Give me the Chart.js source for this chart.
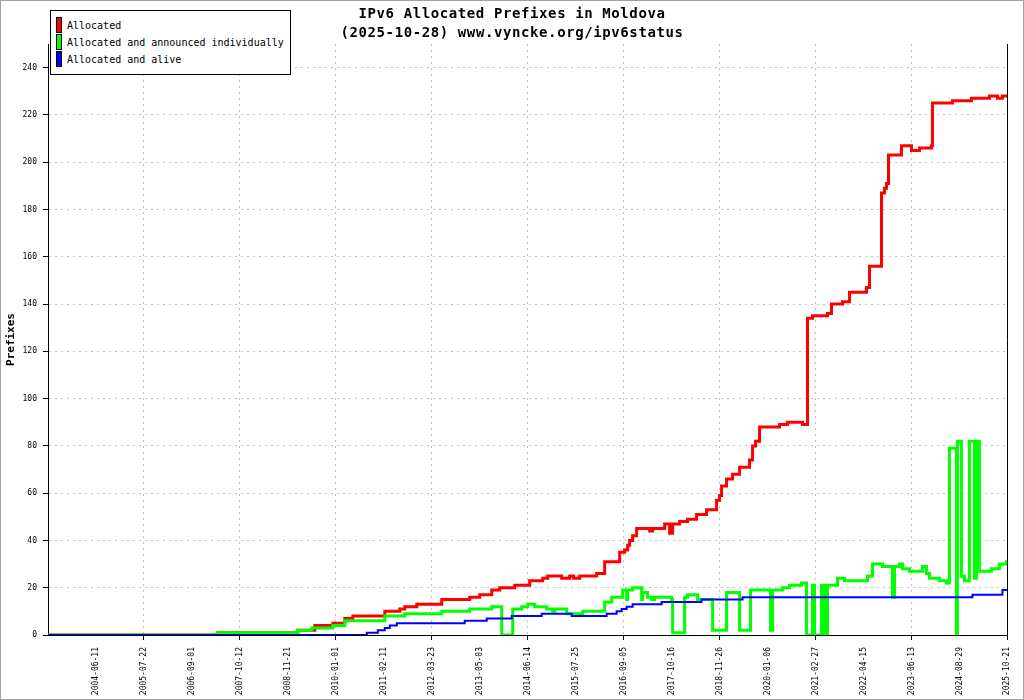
<!DOCTYPE html>
<html>
<head>
<meta charset="utf-8">
<title>IPv6 Allocated Prefixes in Moldova</title>
<script src="https://cdn.jsdelivr.net/npm/chart.js@4.4.1/dist/chart.umd.min.js"></script>
<style>
  html, body { margin: 0; padding: 0; background: #fff; }
  #wrap { position: relative; width: 1024px; height: 700px; overflow: hidden; }
  #chart { position: absolute; left: 0; top: 0; }
  #frame { position: absolute; left: 0; top: 0; width: 1024px; height: 700px; box-sizing: border-box; border: 1px solid #a0a0a0; pointer-events: none; }
  #title { position: absolute; left: 0; top: 4px; width: 1024px; text-align: center; font: bold 14px/19px "DejaVu Sans Mono", monospace; letter-spacing: 0.6px; color: #000; }
  #legend { position: absolute; left: 50px; top: 10px; width: 241px; height: 65px; box-sizing: border-box; border: 1px solid #000; background: #fff; font: 10px "DejaVu Sans Mono", monospace; color: #000; }
  .row { position: absolute; left: 5px; height: 16px; line-height: 16px; white-space: nowrap; }
  .sw { position: absolute; left: 0; top: 0; width: 6px; height: 16px; box-sizing: border-box; border: 1px solid #000; }
  .lbl { position: absolute; left: 11px; top: 1px; }
</style>
</head>
<body>
<div id="wrap">
  <canvas id="chart" width="1024" height="700"></canvas>
  <div id="title">IPv6 Allocated Prefixes in Moldova<br>(2025-10-28) www.vyncke.org/ipv6status</div>
  <div id="legend"></div>
  <div id="frame"></div>
</div>
<script>
// tick labels on the time axis (one every 24 steps)
const dateLabels = ['2004-06-11', '2005-07-22', '2006-09-01', '2007-10-12', '2008-11-21',
  '2010-01-01', '2011-02-11', '2012-03-23', '2013-05-03', '2014-06-14', '2015-07-25',
  '2016-09-05', '2017-10-16', '2018-11-26', '2020-01-06', '2021-02-27', '2022-04-15',
  '2023-06-13', '2024-08-29', '2025-10-21'];
const yTicks = [0, 20, 40, 60, 80, 100, 120, 140, 160, 180, 200, 220, 240];

const seriesNames = ['Allocated', 'Allocated and announced individually', 'Allocated and alive'];

// step points: sample position (0..480) where the value changes, and the new value
const allocX = [0, 85, 125, 133.5, 142.5, 148.5, 152.5, 168.5, 176, 178.5, 184.5, 197, 211, 216, 222,
  226, 233.5, 241, 247.5, 250, 257, 261, 263, 266, 274.5, 278.5, 286, 288.5, 290, 291, 292.5,
  294.5, 301, 302.5, 308.5, 311, 312.5, 316, 320, 324.5, 329.5, 334.5, 336, 337, 339.5, 342.5,
  346, 351, 352.5, 354, 356, 366, 370, 377.5, 380, 382.5, 390, 392, 397.5, 401, 409.5, 411,
  417, 418.5, 419.5, 420.5, 427, 432, 436, 442, 442.5, 452.5, 462, 471, 475, 477.5, 480];
const allocY = [0, 1, 2, 4, 5, 7, 8, 10, 11, 12, 13, 15, 16, 17, 19,
  20, 21, 23, 24, 25, 24, 25, 24, 25, 26, 31, 35, 36, 38, 40, 42,
  45, 44, 45, 47, 43, 47, 48, 49, 51, 53, 57, 59, 63, 66, 68,
  71, 74, 80, 82, 88, 89, 90, 89, 134, 135, 136, 140, 141, 145, 147, 156,
  187, 189, 191, 203, 207, 205, 206, 207, 225, 226, 227, 228, 227, 228, 228];

const announcedX = [0, 85, 125, 132, 142.5, 148.5, 168.5, 178.5, 197, 211, 222, 227, 232.5, 237, 240,
  243.5, 249.5, 252.5, 253.5, 259.5, 267.5, 278.5, 282, 287.5, 289.5, 290, 292.5, 297, 297.5,
  300, 302, 303.5, 312, 312.5, 318.5, 320, 325, 332.5, 339.5, 346, 351.5, 361.5, 362.5, 367.5,
  371, 377, 379.5, 382.5, 383.5, 387, 388.5, 390, 395, 398.5, 410, 412.5, 417.5, 422.5, 423.5,
  426, 427.5, 431, 437.5, 439.5, 441, 446, 449.5, 451, 454.5, 455, 457, 458.5, 461, 463.5,
  464.5, 466, 472, 476, 479.5, 480];
const announcedY = [0, 1, 2, 3, 4, 6, 8, 9, 10, 11, 12, 0, 11, 12, 13,
  12, 11, 10, 11, 9, 10, 14, 16, 19, 15, 19, 20, 15, 18,
  16, 15, 16, 15, 1, 16, 17, 15, 2, 18, 2, 19, 2, 19, 20,
  21, 22, 0, 21, 0, 21, 0, 21, 24, 23, 25, 30, 29, 16, 29,
  30, 28, 27, 29, 26, 24, 23, 22, 79, 0, 82, 25, 23, 82, 24,
  82, 27, 28, 30, 31, 31];

const aliveX = [0, 159.5, 165, 168.5, 171, 174.5, 208.5, 219.5, 232, 247, 262, 279.5, 284.5, 287,
  289.5, 292.5, 307, 327, 347.5, 462.5, 477.5, 480];
const aliveY = [0, 1, 2, 3, 4, 5, 6, 7, 8, 9, 8, 9, 10, 11,
  12, 13, 14, 15, 16, 17, 19, 19];

function toPoints(xs, ys) {
    return xs.map((x, i) => ({ x: x, y: ys[i] }));
}

const monoFont = 'DejaVu Sans Mono';
const gridGrey = '#c0c0c0';

// white background
const paperPlugin = {
    id: 'paper',
    beforeDraw(chart) {
        const ctx = chart.ctx;
        ctx.save();
        ctx.fillStyle = '#fff';
        ctx.fillRect(0, 0, chart.width, chart.height);
        ctx.restore();
    }
};

// solid line along the right edge of the plot
const rightEdgePlugin = {
    id: 'rightEdge',
    afterDraw(chart) {
        const { ctx, chartArea } = chart;
        const x = Math.round(chartArea.right) + 0.5;
        ctx.save();
        ctx.strokeStyle = '#000';
        ctx.lineWidth = 1;
        ctx.beginPath();
        ctx.moveTo(x, chartArea.top);
        ctx.lineTo(x, chartArea.bottom);
        ctx.stroke();
        ctx.restore();
    }
};

const chart = new Chart(document.getElementById('chart').getContext('2d'), {
    type: 'line',
    data: {
        datasets: [{
            label: seriesNames[0],
            data: toPoints(allocX, allocY),
            borderColor: '#ff0000',
            backgroundColor: '#ff0000',
            borderWidth: 3,
            stepped: true,
            order: 3
        }, {
            label: seriesNames[1],
            data: toPoints(announcedX, announcedY),
            borderColor: '#00ff00',
            backgroundColor: '#00ff00',
            borderWidth: 3,
            stepped: true,
            order: 2
        }, {
            label: seriesNames[2],
            data: toPoints(aliveX, aliveY),
            borderColor: '#0000ff',
            backgroundColor: '#0000ff',
            borderWidth: 2,
            stepped: true,
            order: 1
        }]
    },
    options: {
        responsive: false,
        animation: false,
        elements: {
            point: { radius: 0, hoverRadius: 0 },
            line: { tension: 0, fill: false }
        },
        layout: { padding: { top: 44, right: 16, left: 0, bottom: 0 } },
        plugins: {
            legend: { display: false },
            title: { display: false },
            tooltip: { enabled: false }
        },
        scales: {
            x: {
                type: 'linear',
                min: 0,
                max: 480,
                afterBuildTicks: scale => {
                    scale.ticks = dateLabels.map((_, k) => ({ value: (k + 1) * 24 }));
                },
                afterFit: scale => { scale.height = 65; },
                ticks: {
                    autoSkip: false,
                    minRotation: 90,
                    maxRotation: 90,
                    padding: 7,
                    color: '#000',
                    font: { family: monoFont, size: 8 },
                    callback: (value, index) => dateLabels[index]
                },
                grid: {
                    color: c => (c.index % 2 === 1 ? gridGrey : 'rgba(0,0,0,0)'),
                    tickColor: c => (c.index % 2 === 1 ? '#000' : 'rgba(0,0,0,0)'),
                    tickLength: 5,
                    lineWidth: 1,
                    tickBorderDash: []
                },
                border: { display: true, color: '#000', width: 1, dash: [2, 4] }
            },
            y: {
                min: 0,
                max: 250,
                afterBuildTicks: scale => {
                    scale.ticks = yTicks.map(v => ({ value: v }));
                },
                afterFit: scale => { scale.width = 48; },
                ticks: {
                    autoSkip: false,
                    padding: 6,
                    color: '#000',
                    font: { family: monoFont, size: 8 }
                },
                grid: {
                    color: gridGrey,
                    tickColor: '#000',
                    tickLength: 5,
                    lineWidth: 1,
                    tickBorderDash: []
                },
                border: { display: true, color: '#000', width: 1, dash: [2, 4] },
                title: {
                    display: true,
                    text: 'Prefixes',
                    color: '#000',
                    font: { family: monoFont, size: 11, weight: 'bold' },
                    padding: { top: 5, bottom: 0 }
                }
            }
        }
    },
    plugins: [paperPlugin, rightEdgePlugin]
});

// legend box, built from the datasets
const legend = document.getElementById('legend');
chart.data.datasets.forEach((ds, i) => {
    const row = document.createElement('div');
    row.className = 'row';
    row.style.top = (6 + 17 * i) + 'px';
    const sw = document.createElement('span');
    sw.className = 'sw';
    sw.style.background = ds.borderColor;
    const lbl = document.createElement('span');
    lbl.className = 'lbl';
    lbl.textContent = ds.label;
    row.appendChild(sw);
    row.appendChild(lbl);
    legend.appendChild(row);
});
</script>
</body>
</html>
